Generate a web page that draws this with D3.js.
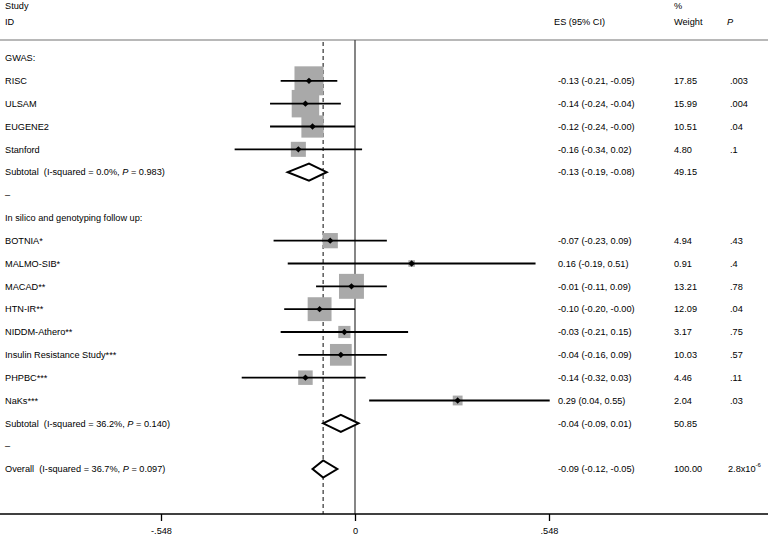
<!DOCTYPE html>
<html lang="en">
<head>
<meta charset="utf-8">
<title>Forest plot</title>
<script src="https://cdn.jsdelivr.net/npm/d3@7"></script>
<style>
  body { margin: 0; background: #fff; }
  svg text { font-family: "Liberation Sans", Arial, sans-serif; font-size: 9.2px; fill: #000; }
</style>
</head>
<body>
<div id="chart"></div>
<script>
// rows of the plot, top to bottom
var rowLabels = ["GWAS:", "RISC", "ULSAM", "EUGENE2", "Stanford",
  "Subtotal  (I-squared = 0.0%, P = 0.983)", "\u2013", "In silico and genotyping follow up:",
  "BOTNIA*", "MALMO-SIB*", "MACAD**", "HTN-IR**", "NIDDM-Athero**", "Insulin Resistance Study***",
  "PHPBC***", "NaKs***", "Subtotal  (I-squared = 36.2%, P = 0.140)", "\u2013",
  "Overall  (I-squared = 36.7%, P = 0.097)"];
// "study", "summary" or "" for text-only rows
var rowKind = ["", "study", "study", "study", "study", "summary", "", "",
  "study", "study", "study", "study", "study", "study", "study", "study", "summary", "", "summary"];
var es = [null, -0.13, -0.14, -0.12, -0.16, -0.13, null, null,
  -0.07, 0.16, -0.01, -0.10, -0.03, -0.04, -0.14, 0.29, -0.04, null, -0.09];
var lo = [null, -0.21, -0.24, -0.24, -0.34, -0.19, null, null,
  -0.23, -0.19, -0.11, -0.20, -0.21, -0.16, -0.32, 0.04, -0.09, null, -0.12];
var hi = [null, -0.05, -0.04, -0.00, 0.02, -0.08, null, null,
  0.09, 0.51, 0.09, -0.00, 0.15, 0.09, 0.03, 0.55, 0.01, null, -0.05];
var weights = [null, 17.85, 15.99, 10.51, 4.80, 49.15, null, null,
  4.94, 0.91, 13.21, 12.09, 3.17, 10.03, 4.46, 2.04, 50.85, null, 100.00];
var pText = ["", ".003", ".004", ".04", ".1", "", "", "",
  ".43", ".4", ".78", ".04", ".75", ".57", ".11", ".03", "", "", "2.8x10^-6"];
var overallES = -0.09;
var tickVals = [-0.548, 0, 0.548];
var tickLabels = ["-.548", "0", ".548"];

var W = 768, H = 537;
var svg = d3.select("#chart").append("svg").attr("width", W).attr("height", H);

var x = d3.scaleLinear().domain([-0.548, 0.548]).range([161, 549]);
var y = d3.scalePoint().domain(d3.range(rowLabels.length)).range([58, 469]);
var side = d3.scaleSqrt().domain([0, 17.85]).range([0, 29]);
var axisY = 514, topY = 40;

function f2(v) {
  var neg = v < 0 || (v === 0 && 1 / v < 0);
  return (neg ? "-" : "") + Math.abs(v).toFixed(2);
}

// header
svg.append("text").attr("x", 5).attr("y", 6).attr("dy", "0.35em").text("Study");
svg.append("text").attr("x", 5).attr("y", 22).attr("dy", "0.35em").text("ID");
svg.append("text").attr("x", 554).attr("y", 22).attr("dy", "0.35em").text("ES (95% CI)");
svg.append("text").attr("x", 674).attr("y", 6).attr("dy", "0.35em").text("%");
svg.append("text").attr("x", 674).attr("y", 22).attr("dy", "0.35em").text("Weight");
svg.append("text").attr("x", 727).attr("y", 22).attr("dy", "0.35em").style("font-style", "italic").text("P");
svg.append("line").attr("x1", 0).attr("x2", W).attr("y1", topY).attr("y2", topY)
  .attr("stroke", "#b8b8b8").attr("stroke-width", 2);

// reference lines
svg.append("line").attr("x1", x(0)).attr("x2", x(0)).attr("y1", topY).attr("y2", axisY)
  .attr("stroke", "#444").attr("stroke-width", 1.3);
svg.append("line").attr("x1", x(overallES)).attr("x2", x(overallES)).attr("y1", topY + 2).attr("y2", axisY)
  .attr("stroke", "#333").attr("stroke-width", 1.2).attr("stroke-dasharray", "4,3");

var idx = d3.range(rowLabels.length);
var studies = idx.filter(function (i) { return rowKind[i] === "study"; });
var summaries = idx.filter(function (i) { return rowKind[i] === "summary"; });

// weight boxes
svg.selectAll("rect.box").data(studies).enter().append("rect")
  .attr("class", "box")
  .attr("x", function (i) { return x(es[i]) - side(weights[i]) / 2; })
  .attr("y", function (i) { return y(i) - side(weights[i]) / 2; })
  .attr("width", function (i) { return side(weights[i]); })
  .attr("height", function (i) { return side(weights[i]); })
  .attr("fill", "#a9a9a9");

// confidence intervals
svg.selectAll("line.ci").data(studies).enter().append("line")
  .attr("class", "ci")
  .attr("x1", function (i) { return x(lo[i]); })
  .attr("x2", function (i) { return x(hi[i]); })
  .attr("y1", function (i) { return y(i); })
  .attr("y2", function (i) { return y(i); })
  .attr("stroke", "#000").attr("stroke-width", 1.8);

// point estimates
svg.selectAll("path.pt").data(studies).enter().append("path")
  .attr("class", "pt")
  .attr("d", function (i) {
    var cx = x(es[i]), cy = y(i), r = 3.2;
    return "M" + (cx - r) + "," + cy + "L" + cx + "," + (cy - r) + "L" + (cx + r) + "," + cy + "L" + cx + "," + (cy + r) + "Z";
  })
  .attr("fill", "#000");

// pooled diamonds
svg.selectAll("path.dia").data(summaries).enter().append("path")
  .attr("class", "dia")
  .attr("d", function (i) {
    var cy = y(i), h = 8.5;
    return "M" + x(lo[i]) + "," + cy + "L" + x(es[i]) + "," + (cy - h) + "L" + x(hi[i]) + "," + cy + "L" + x(es[i]) + "," + (cy + h) + "Z";
  })
  .attr("fill", "#fff").attr("stroke", "#000").attr("stroke-width", 2).attr("stroke-linejoin", "miter");

// row labels (italic P in heterogeneity text)
var lab = svg.selectAll("text.lab").data(idx).enter().append("text")
  .attr("class", "lab").attr("x", 5).attr("y", function (i) { return y(i); }).attr("dy", "0.35em")
  .style("white-space", "pre");
lab.each(function (i) {
  var t = d3.select(this), s = rowLabels[i], k = s.indexOf("P =");
  if (k < 0) { t.text(s); return; }
  t.append("tspan").text(s.slice(0, k));
  t.append("tspan").style("font-style", "italic").text("P");
  t.append("tspan").text(s.slice(k + 1));
});

// ES (95% CI)
svg.selectAll("text.es").data(idx.filter(function (i) { return es[i] !== null; })).enter().append("text")
  .attr("class", "es").attr("x", 558).attr("y", function (i) { return y(i); }).attr("dy", "0.35em")
  .text(function (i) { return f2(es[i]) + " (" + f2(lo[i]) + ", " + f2(hi[i]) + ")"; });

// weights
svg.selectAll("text.wt").data(idx.filter(function (i) { return weights[i] !== null; })).enter().append("text")
  .attr("class", "wt").attr("x", 674).attr("y", function (i) { return y(i); }).attr("dy", "0.35em")
  .text(function (i) { return weights[i].toFixed(2); });

// P values
var pt = svg.selectAll("text.pv").data(idx.filter(function (i) { return pText[i] !== ""; })).enter().append("text")
  .attr("class", "pv").attr("x", function (i) { return pText[i].indexOf("^") >= 0 ? 728 : 730; })
  .attr("y", function (i) { return y(i); }).attr("dy", "0.35em");
pt.each(function (i) {
  var t = d3.select(this), parts = pText[i].split("^");
  t.append("tspan").text(parts[0]);
  if (parts[1]) t.append("tspan").attr("dy", "-0.85em").style("font-size", "6px").text(parts[1]);
});

// axis
svg.append("line").attr("x1", 0).attr("x2", W).attr("y1", axisY).attr("y2", axisY)
  .attr("stroke", "#000").attr("stroke-width", 1.3);
var ax = svg.append("g").attr("transform", "translate(0," + axisY + ")")
  .call(d3.axisBottom(x).tickValues(tickVals).tickSize(7).tickPadding(6)
    .tickFormat(function (d, i) { return tickLabels[i]; }));
ax.select(".domain").remove();
ax.selectAll(".tick line").attr("stroke", "#000").attr("stroke-width", 1.3);
ax.selectAll(".tick text").style("font-family", "'Liberation Sans', Arial, sans-serif").style("font-size", "9.2px");
</script>
</body>
</html>
